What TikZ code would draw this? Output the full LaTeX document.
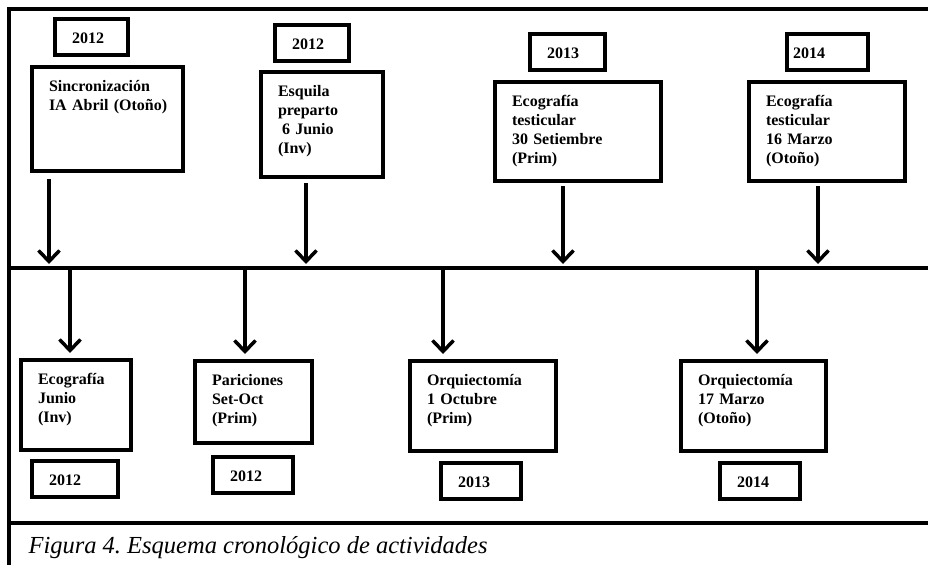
\documentclass[tikz,border=0pt]{standalone}
\usepackage{fontspec}
\setmainfont{Liberation Serif}
\usetikzlibrary{arrows.meta}
\frenchspacing

\tikzset{
  caja/.style={draw, line width=4pt, outer sep=2pt, anchor=north west,
    inner xsep=17pt, inner ysep=12pt, text height=12pt, align=left,
    font=\bfseries\fontsize{16}{19}\selectfont},
  anio/.style={caja, text depth=0pt},
  flecha/.style={line width=3.5pt, -{Straight Barb[length=11pt,width=21pt]}},
  marco/.style={line width=4pt}
}

\begin{document}
\begin{tikzpicture}[x=1pt, y=-1pt]
\useasboundingbox (0,0) rectangle (928,565);

% Frame and timeline
\draw[marco] (928,9) -- (8.5,9) -- (8.5,565);
\draw[marco] (8.5,268) -- (928,268);
\draw[marco] (8.5,523) -- (928,523);

% Upper events
\node[anio, text width=39pt] (y1) at (53,17) {2012};
\node[caja, text width=117pt, text depth=68pt] (sinc) at (30,65) {Sincronización\\\mbox{IA Abril (Otoño)}};

\node[anio, text width=40pt] (y2) at (273,23) {2012};
\node[caja, text width=88pt, text depth=69pt] (esq) at (259,70) {Esquila\\preparto\\\hspace*{4pt}6 Junio\\(Inv)};

\node[anio, text width=41pt] (y3) at (528,32) {2013};
\node[caja, text width=132pt, text depth=63pt] (ecot) at (493,80) {Ecografía\\testicular\\30 Setiembre\\(Prim)};

\node[anio, inner xsep=6pt, text width=69pt] (y4) at (785,32) {2014};
\node[caja, text width=122pt, text depth=63pt] (ecom) at (747,80) {Ecografía\\testicular\\16 Marzo\\(Otoño)};

% Lower events
\node[caja, text width=76pt, text depth=54pt] (ecoj) at (19,358) {Ecografía\\Junio\\(Inv)};
\node[anio, text width=52pt] (y5) at (30,459) {2012};

\node[caja, text width=83pt, text depth=46pt] (par) at (193,359) {Pariciones\\Set-Oct\\(Prim)};
\node[anio, text width=46pt] (y6) at (211,455) {2012};

\node[caja, text width=112pt, text depth=54pt] (orqo) at (408,359) {Orquiectomía\\1 Octubre\\(Prim)};
\node[anio, text width=46pt] (y7) at (439,461) {2013};

\node[caja, text width=111pt, text depth=54pt] (orqm) at (679,359) {Orquiectomía\\17 Marzo\\(Otoño)};
\node[anio, text width=46pt] (y8) at (718,461) {2014};

% Points on the timeline
\coordinate (t1) at (49,268);
\coordinate (t2) at (306,268);
\coordinate (t3) at (563,268);
\coordinate (t4) at (818,268);
\coordinate (b1) at (70,268);
\coordinate (b2) at (245,268);
\coordinate (b3) at (443,268);
\coordinate (b4) at (757,268);

% Arrows to the timeline
\draw[flecha, shorten <=6pt, shorten >=4pt] (sinc.south -| t1) -- (t1);
\draw[flecha, shorten <=4pt, shorten >=4pt] (esq.south -| t2) -- (t2);
\draw[flecha, shorten <=3pt, shorten >=4pt] (ecot.south -| t3) -- (t3);
\draw[flecha, shorten <=3pt, shorten >=4pt] (ecom.south -| t4) -- (t4);

% Arrows from the timeline
\draw[flecha, shorten <=2pt, shorten >=5pt] (b1) -- (b1 |- ecoj.north);
\draw[flecha, shorten <=2pt, shorten >=5pt] (b2) -- (b2 |- par.north);
\draw[flecha, shorten <=2pt, shorten >=5pt] (b3) -- (b3 |- orqo.north);
\draw[flecha, shorten <=2pt, shorten >=5pt] (b4) -- (b4 |- orqm.north);

% Caption
\node[anchor=base west, font=\itshape\fontsize{24.5}{27}\selectfont] (pie) at (25,553) {Figura 4. Esquema cronológico de actividades};
\end{tikzpicture}
\end{document}
